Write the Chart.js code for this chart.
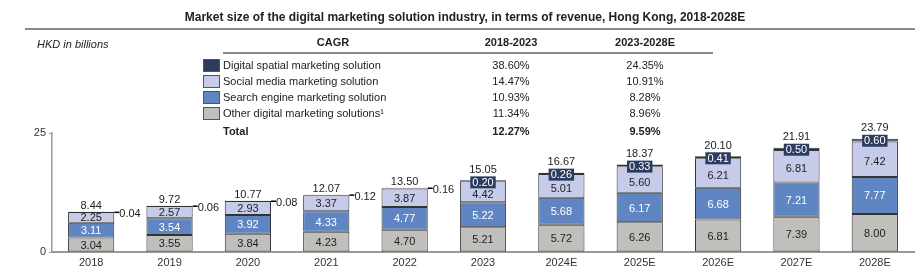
<!DOCTYPE html>
<html>
<head>
<meta charset="utf-8">
<script src="https://cdn.jsdelivr.net/npm/chart.js@4"></script>
<style>
  html, body { margin: 0; padding: 0; background: #fff; }
  body { width: 919px; height: 274px; position: relative; overflow: hidden;
         font-family: "Liberation Sans", Arial, sans-serif; color: #222; }
  #chart { position: absolute; left: 0; top: 0; }
  .t { position: absolute; white-space: nowrap; font-size: 11px; line-height: 14px; }
  .c { transform: translateX(-50%); }
  .b { font-weight: bold; }
  .rule { position: absolute; background: #8a8a8a; }
  .sw { position: absolute; width: 15px; height: 11px; border: 1px solid #555; }
</style>
</head>
<body>
<canvas id="chart" width="919" height="274"></canvas>

<div class="t b c" style="left:465px;top:10px;font-size:12px;">Market size of the digital marketing solution industry, in terms of revenue, Hong Kong, 2018-2028E</div>
<div class="rule" style="left:25px;top:28px;width:890px;height:2px;"></div>
<div class="t" style="left:37px;top:37px;font-style:italic;">HKD in billions</div>
<div id="table"></div>

<script>
const years = ['2018', '2019', '2020', '2021', '2022', '2023', '2024E', '2025E', '2026E', '2027E', '2028E'];
const other = [3.04, 3.55, 3.84, 4.23, 4.70, 5.21, 5.72, 6.26, 6.81, 7.39, 8.00];
const search = [3.11, 3.54, 3.92, 4.33, 4.77, 5.22, 5.68, 6.17, 6.68, 7.21, 7.77];
const social = [2.25, 2.57, 2.93, 3.37, 3.87, 4.42, 5.01, 5.60, 6.21, 6.81, 7.42];
const spatial = [0.04, 0.06, 0.08, 0.12, 0.16, 0.20, 0.26, 0.33, 0.41, 0.50, 0.60];
const totals = [8.44, 9.72, 10.77, 12.07, 13.50, 15.05, 16.67, 18.37, 20.10, 21.91, 23.79];
const yTicks = [0, 25];

const seriesNames = ['Digital spatial marketing solution', 'Social media marketing solution',
  'Search engine marketing solution', 'Other digital marketing solutions¹'];
const cagr1823 = ['38.60%', '14.47%', '10.93%', '11.34%'];
const cagr2328 = ['24.35%', '10.91%', '8.28%', '8.96%'];
const totalCagr = ['12.27%', '9.59%'];

const colors = {
  spatial: '#2c3c5f',
  social: '#c6cbe9',
  search: '#5f86c2',
  other: '#c0bfbc'
};
const swatches = [colors.spatial, colors.social, colors.search, colors.other];

// CAGR table above the chart
(function buildTable() {
  const rowsY = [58, 74, 90, 106];
  let html = `
    <div class="t b c" style="left:333px;top:35px;">CAGR</div>
    <div class="t b c" style="left:511px;top:35px;">2018-2023</div>
    <div class="t b c" style="left:645px;top:35px;">2023-2028E</div>
    <div class="rule" style="left:223px;top:52px;width:490px;height:2px;"></div>`;
  seriesNames.forEach((name, i) => {
    html += `
      <div class="sw" style="left:203px;top:${rowsY[i] + 1}px;background:${swatches[i]};"></div>
      <div class="t" style="left:223px;top:${rowsY[i]}px;">${name}</div>
      <div class="t c" style="left:511px;top:${rowsY[i]}px;">${cagr1823[i]}</div>
      <div class="t c" style="left:645px;top:${rowsY[i]}px;">${cagr2328[i]}</div>`;
  });
  html += `
    <div class="t b" style="left:223px;top:124px;">Total</div>
    <div class="t b c" style="left:511px;top:124px;">${totalCagr[0]}</div>
    <div class="t b c" style="left:645px;top:124px;">${totalCagr[1]}</div>`;
  document.getElementById('table').innerHTML = html;
})();

const FONT = '"Liberation Sans", Arial, sans-serif';
Chart.defaults.font.family = FONT;
Chart.defaults.font.size = 11;
Chart.defaults.color = '#333';

const labelPlugin = {
  id: 'valueLabels',
  afterDatasetsDraw(chart) {
    const ctx = chart.ctx;
    ctx.save();
    ctx.font = `11px ${FONT}`;
    ctx.textAlign = 'center';
    ctx.textBaseline = 'middle';
    // inner segment labels
    [0, 1, 2].forEach(di => {
      const ds = chart.data.datasets[di];
      chart.getDatasetMeta(di).data.forEach((bar, j) => {
        ctx.fillStyle = di === 1 ? '#fff' : '#222';
        const shift = di === 2 && j >= 5 ? 3 : 1;
        ctx.fillText(ds.data[j].toFixed(2), bar.x, (bar.y + bar.base) / 2 + shift);
      });
    });
    // digital spatial labels
    chart.getDatasetMeta(3).data.forEach((bar, j) => {
      const txt = spatial[j].toFixed(2);
      if (j < 5) {
        const right = bar.x + bar.width / 2;
        ctx.strokeStyle = '#000';
        ctx.lineWidth = 1.5;
        ctx.beginPath();
        ctx.moveTo(right, bar.y + 0.5);
        ctx.lineTo(right + 5, bar.y + 0.5);
        ctx.stroke();
        ctx.fillStyle = '#222';
        ctx.textAlign = 'left';
        ctx.fillText(txt, right + 5, bar.y + 2);
        ctx.textAlign = 'center';
      } else {
        const w = ctx.measureText(txt).width + 4;
        const cy = bar.y + 2;
        ctx.fillStyle = colors.spatial;
        ctx.fillRect(bar.x - w / 2, cy - 6, w, 12);
        ctx.fillStyle = '#fff';
        ctx.fillText(txt, bar.x, cy + 0.5);
      }
    });
    // totals
    ctx.fillStyle = '#222';
    ctx.textBaseline = 'bottom';
    chart.getDatasetMeta(3).data.forEach((bar, j) => {
      ctx.fillText(totals[j].toFixed(2), bar.x, bar.y - (j < 5 ? 0 : 5));
    });
    ctx.restore();
  }
};

const ds = (label, data, color) => ({
  label, data,
  backgroundColor: color,
  borderColor: '#333',
  borderWidth: 1,
  borderSkipped: false,
  barPercentage: 0.59,
  categoryPercentage: 1
});

new Chart(document.getElementById('chart'), {
  type: 'bar',
  data: {
    labels: years,
    datasets: [
      ds('Other digital marketing solutions', other, colors.other),
      ds('Search engine marketing solution', search, colors.search),
      ds('Social media marketing solution', social, colors.social),
      ds('Digital spatial marketing solution', spatial, colors.spatial)
    ]
  },
  options: {
    responsive: false,
    animation: false,
    layout: { padding: { top: 133, right: 5, left: 0, bottom: 0 } },
    plugins: { legend: { display: false }, tooltip: { enabled: false } },
    scales: {
      x: {
        stacked: true,
        grid: { display: false },
        border: { color: '#999', width: 2 },
        ticks: { color: '#333', padding: -4, font: { size: 11 } },
        afterFit: s => { s.height = 22; }
      },
      y: {
        stacked: true,
        min: yTicks[0],
        max: yTicks[yTicks.length - 1],
        afterBuildTicks: s => { s.ticks = yTicks.map(v => ({ value: v })); },
        grid: { drawOnChartArea: false, tickLength: 3, color: '#999' },
        border: { color: '#999', width: 1.5 },
        ticks: { color: '#333', padding: 3, font: { size: 11 } },
        afterFit: s => { s.width = 52; }
      }
    }
  },
  plugins: [labelPlugin]
});
</script>
</body>
</html>
